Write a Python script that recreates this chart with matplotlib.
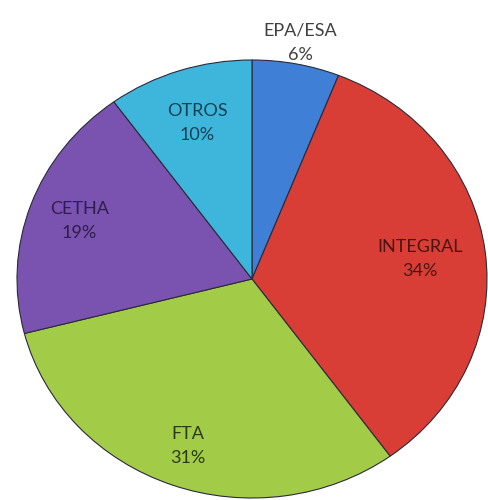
import numpy as np
import matplotlib.pyplot as plt

labels = ["EPA/ESA", "INTEGRAL", "FTA", "CETHA", "OTROS"]
values = [6, 34, 31, 19, 10]
colors = ["#3f7fd6", "#d83e36", "#a2cc48", "#7a52b0", "#3eb6db"]
text_colors = ["#404040", "#4a1512", "#2c3a12", "#2e1f4a", "#173f52"]
label_r = [1.10, 0.72, 0.81, 0.78, 0.75]

fig = plt.figure(figsize=(4.89, 5.0), dpi=100)
ax = fig.add_axes([17 / 489, 2 / 500, 470 / 489, 438 / 500])

wedges, _ = ax.pie(values, colors=colors, startangle=90, counterclock=False,
                   wedgeprops=dict(edgecolor="#2a2a3a", linewidth=0.8))
ax.set_aspect("auto")
ax.set_xlim(-1, 1)
ax.set_ylim(-1, 1)
ax.axis("off")

total = sum(values)
for w, lab, v, c, r in zip(wedges, labels, values, text_colors, label_r):
    ang = np.deg2rad((w.theta1 + w.theta2) / 2)
    ax.text(r * np.cos(ang), r * np.sin(ang), f"{lab}\n{round(100 * v / total)}%",
            ha="center", va="center", fontsize=13, color=c,
            family="Lato", linespacing=1.65)

fig.savefig("out.png", dpi=100)
